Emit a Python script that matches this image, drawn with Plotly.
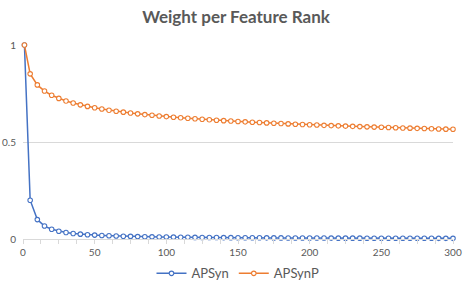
import plotly.graph_objects as go

ranks = [1, 5, 10, 15, 20, 25, 30, 35, 40, 45, 50, 55, 60, 65, 70, 75, 80, 85, 90, 95,
         100, 105, 110, 115, 120, 125, 130, 135, 140, 145, 150, 155, 160, 165, 170, 175,
         180, 185, 190, 195, 200, 205, 210, 215, 220, 225, 230, 235, 240, 245, 250, 255,
         260, 265, 270, 275, 280, 285, 290, 295, 300]

apsyn = [1.0, 0.2, 0.1, 0.0667, 0.05, 0.04, 0.0333, 0.0286, 0.025, 0.0222, 0.02, 0.0182,
         0.0167, 0.0154, 0.0143, 0.0133, 0.0125, 0.0118, 0.0111, 0.0105, 0.01, 0.0095,
         0.0091, 0.0087, 0.0083, 0.008, 0.0077, 0.0074, 0.0071, 0.0069, 0.0067, 0.0065,
         0.0063, 0.0061, 0.0059, 0.0057, 0.0056, 0.0054, 0.0053, 0.0051, 0.005, 0.0049,
         0.0048, 0.0047, 0.0045, 0.0044, 0.0043, 0.0043, 0.0042, 0.0041, 0.004, 0.0039,
         0.0038, 0.0038, 0.0037, 0.0036, 0.0036, 0.0035, 0.0034, 0.0034, 0.0033]

apsynp = [1.0, 0.8513, 0.7943, 0.7627, 0.7411, 0.7248, 0.7117, 0.7008, 0.6915, 0.6834,
          0.6763, 0.6698, 0.6640, 0.6587, 0.6538, 0.6493, 0.6452, 0.6413, 0.6376, 0.6342,
          0.6310, 0.6279, 0.6250, 0.6222, 0.6196, 0.6170, 0.6146, 0.6123, 0.6101, 0.6080,
          0.6059, 0.6039, 0.6020, 0.6002, 0.5984, 0.5967, 0.5950, 0.5934, 0.5918, 0.5903,
          0.5887, 0.5873, 0.5859, 0.5845, 0.5832, 0.5819, 0.5806, 0.5793, 0.5781, 0.5769,
          0.5757, 0.5746, 0.5735, 0.5724, 0.5713, 0.5703, 0.5693, 0.5683, 0.5673, 0.5663,
          0.5654]

x_ticks = [0, 50, 100, 150, 200, 250, 300]
y_ticks = [0, 0.5, 1]
y_tick_labels = ["0", "0.5", "1"]

BLUE = "#4472C4"
ORANGE = "#ED7D31"
GREY = "#595959"
FONT = "Lato, 'Open Sans', sans-serif"

fig = go.Figure()
fig.add_trace(go.Scatter(
    x=ranks, y=apsyn, name="APSyn", mode="lines+markers",
    line=dict(color=BLUE, width=1.5),
    marker=dict(symbol="circle", size=4.5, color="white", line=dict(width=1.1, color=BLUE)),
    cliponaxis=False,
))
fig.add_trace(go.Scatter(
    x=ranks, y=apsynp, name="APSynP", mode="lines+markers",
    line=dict(color=ORANGE, width=1.5),
    marker=dict(symbol="circle", size=4.5, color="white", line=dict(width=1.1, color=ORANGE)),
    cliponaxis=False,
))

fig.update_layout(
    width=472, height=292,
    margin=dict(l=23, r=19, t=45, b=53, autoexpand=False),
    paper_bgcolor="white", plot_bgcolor="white",
    font=dict(family=FONT, color=GREY, size=10),
    title=dict(text="<b>Weight per Feature Rank</b>", x=0.5, xanchor="center",
               y=0.94, yanchor="middle",
               font=dict(family=FONT, size=17, color=GREY)),
    showlegend=True,
    legend=dict(orientation="h", x=0.5, xanchor="center", y=-0.1, yanchor="top",
                font=dict(size=13, color=GREY), itemwidth=30),
)
fig.update_xaxes(
    range=[0, 300], tickvals=x_ticks, ticktext=[str(v) for v in x_ticks],
    showgrid=False, zeroline=False, showline=True, linecolor="#D9D9D9", linewidth=1,
    ticks="outside", ticklen=4, tickcolor="#D9D9D9", automargin=False,
    minor=dict(dtick=12.5, ticks="outside", ticklen=4, tickcolor="#D9D9D9"),
    tickfont=dict(size=10, color=GREY),
)
fig.update_yaxes(
    range=[0, 1], tickvals=y_ticks, ticktext=y_tick_labels,
    showgrid=True, gridcolor="#D9D9D9", gridwidth=1, zeroline=False,
    showline=False, ticks="", automargin=False, ticklabelstandoff=6,
    tickfont=dict(size=10, color=GREY),
)

fig.write_html("out.html", config={"displayModeBar": False},
               post_script="document.body.style.margin='0';document.body.style.overflow='hidden';")
